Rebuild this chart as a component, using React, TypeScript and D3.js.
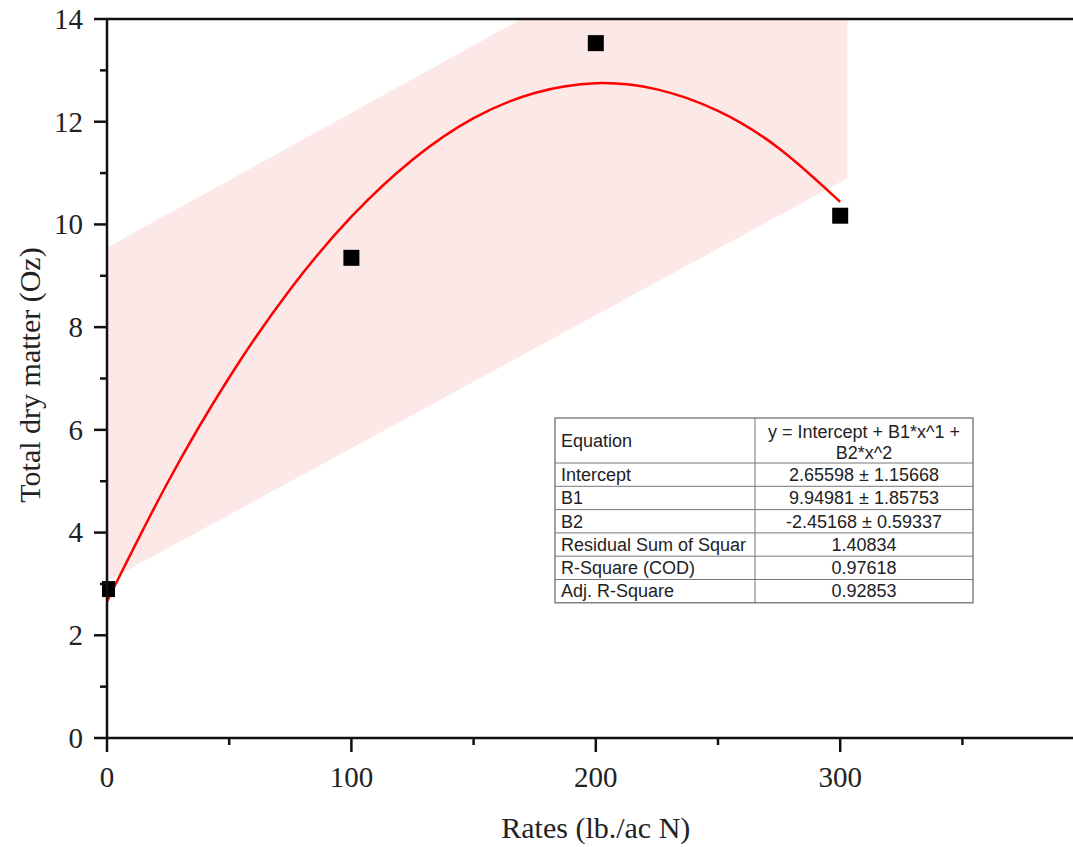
import React, { useEffect, useRef } from "react";
import * as d3 from "d3";

// measured points
const rates = [0, 100, 200, 300];
const dryMatter = [2.9, 9.35, 13.53, 10.17];

// fitted curve
const curveRates = [0, 25, 50, 75, 100, 125, 150, 175, 200, 225, 250, 275, 300];
const curveValues = [2.66, 4.99, 7.02, 8.74, 10.15, 11.26, 12.07, 12.56, 12.75, 12.63, 12.21, 11.48, 10.44];

// shaded band edges
const bandRates = [0, 303];
const bandUpper = [9.55, 17.5];
const bandLower = [3.05, 10.9];

const xMajor = [0, 100, 200, 300, 400];
const xMinor = [50, 150, 250, 350];
const yMajor = [0, 2, 4, 6, 8, 10, 12, 14];
const yMinor = [1, 3, 5, 7, 9, 11, 13];

const tableLabels = ["Intercept", "B1", "B2", "Residual Sum of Squar", "R-Square (COD)", "Adj. R-Square"];
const tableValues = ["2.65598 ± 1.15668", "9.94981 ± 1.85753", "-2.45168 ± 0.59337", "1.40834", "0.97618", "0.92853"];
const equationLines = ["y = Intercept + B1*x^1 +", "B2*x^2"];

const W = 1073;
const H = 847;
const left = 107;
const top = 19;
const bottom = 738;

const App = () => {
    const svgRef = useRef(null);

    useEffect(() => {
        const svg = d3.select(svgRef.current);
        svg.selectAll("*").remove();

        const x = d3.scaleLinear().domain([0, 400]).range([left, left + 4 * 244.4]);
        const y = d3.scaleLinear().domain([0, 14]).range([bottom, top]);

        const defs = svg.append("defs");
        defs.append("clipPath").attr("id", "plot-clip")
            .append("rect").attr("x", left).attr("y", top).attr("width", W - left).attr("height", bottom - top);
        // markers sitting on the axis get cut a bit
        defs.append("clipPath").attr("id", "mark-clip")
            .append("rect").attr("x", left - 5).attr("y", 0).attr("width", W).attr("height", bottom);

        const plot = svg.append("g").attr("clip-path", "url(#plot-clip)");

        // band
        const band = d3.area()
            .x((d) => x(d[0]))
            .y0((d) => y(d[1]))
            .y1((d) => y(d[2]));
        plot.append("path")
            .datum(bandRates.map((r, i) => [r, bandLower[i], bandUpper[i]]))
            .attr("d", band)
            .attr("fill", "#fde8e8");

        // markers
        const sz = 16;
        svg.append("g").attr("clip-path", "url(#mark-clip)").selectAll("rect")
            .data(rates.map((r, i) => [r, dryMatter[i]]))
            .enter()
            .append("rect")
            .attr("x", (d) => x(d[0]) - sz / 2)
            .attr("y", (d) => y(d[1]) - sz / 2)
            .attr("width", sz)
            .attr("height", sz)
            .attr("fill", "#000");

        // fit curve
        const line = d3.line()
            .x((d) => x(d[0]))
            .y((d) => y(d[1]))
            .curve(d3.curveNatural);
        plot.append("path")
            .datum(curveRates.map((r, i) => [r, curveValues[i]]))
            .attr("d", line)
            .attr("fill", "none")
            .attr("stroke", "#ff0000")
            .attr("stroke-width", 2.5);

        // axes
        const axes = svg.append("g").attr("stroke", "#111").attr("stroke-width", 2.5);
        axes.append("line").attr("x1", left).attr("x2", W).attr("y1", bottom).attr("y2", bottom);
        axes.append("line").attr("x1", left).attr("x2", W).attr("y1", top).attr("y2", top);
        axes.append("line").attr("x1", left).attr("x2", left).attr("y1", top - 1).attr("y2", bottom);

        axes.selectAll(".xmaj").data(xMajor).enter().append("line")
            .attr("x1", (d) => x(d)).attr("x2", (d) => x(d))
            .attr("y1", bottom).attr("y2", bottom + 14);
        axes.selectAll(".xmin").data(xMinor).enter().append("line")
            .attr("x1", (d) => x(d)).attr("x2", (d) => x(d))
            .attr("y1", bottom).attr("y2", bottom + 7);
        axes.selectAll(".ymaj").data(yMajor).enter().append("line")
            .attr("x1", left - 13).attr("x2", left)
            .attr("y1", (d) => y(d)).attr("y2", (d) => y(d));
        axes.selectAll(".ymin").data(yMinor).enter().append("line")
            .attr("x1", left - 7).attr("x2", left)
            .attr("y1", (d) => y(d)).attr("y2", (d) => y(d));

        const serif = "'Liberation Serif', 'Times New Roman', serif";

        svg.append("g").selectAll("text").data(xMajor.filter((d) => x(d) < W)).enter().append("text")
            .attr("x", (d) => x(d))
            .attr("y", 787)
            .attr("text-anchor", "middle")
            .attr("font-family", serif)
            .attr("font-size", 29)
            .attr("fill", "#222")
            .text((d) => d);

        svg.append("g").selectAll("text").data(yMajor).enter().append("text")
            .attr("x", 83)
            .attr("y", (d) => y(d))
            .attr("dy", "0.34em")
            .attr("text-anchor", "end")
            .attr("font-family", serif)
            .attr("font-size", 29)
            .attr("fill", "#222")
            .text((d) => d);

        svg.append("text")
            .attr("x", x(200))
            .attr("y", 838)
            .attr("text-anchor", "middle")
            .attr("font-family", serif)
            .attr("font-size", 30)
            .attr("fill", "#222")
            .text("Rates (lb./ac N)");

        svg.append("text")
            .attr("transform", "translate(40,375) rotate(-90)")
            .attr("text-anchor", "middle")
            .attr("font-family", serif)
            .attr("font-size", 30)
            .attr("fill", "#222")
            .text("Total dry matter (Oz)");

        // stats table
        const tx0 = 555;
        const tx1 = 755;
        const tx2 = 973;
        const ty0 = 418;
        const headH = 45;
        const rowH = 23.3;
        const tbl = svg.append("g");
        const ty1 = ty0 + headH;
        const tyEnd = ty1 + rowH * tableLabels.length;

        tbl.append("rect")
            .attr("x", tx0).attr("y", ty0)
            .attr("width", tx2 - tx0).attr("height", tyEnd - ty0)
            .attr("fill", "#fff");

        const rowLines = [ty1, ...tableLabels.slice(1).map((_, i) => ty1 + rowH * (i + 1))];
        tbl.selectAll(".hl").data(rowLines).enter().append("line")
            .attr("x1", tx0).attr("x2", tx2)
            .attr("y1", (d) => d).attr("y2", (d) => d)
            .attr("stroke", "#777").attr("stroke-width", 1);
        tbl.append("line")
            .attr("x1", tx1).attr("x2", tx1).attr("y1", ty0).attr("y2", tyEnd)
            .attr("stroke", "#777").attr("stroke-width", 1);
        tbl.append("rect")
            .attr("x", tx0).attr("y", ty0)
            .attr("width", tx2 - tx0).attr("height", tyEnd - ty0)
            .attr("fill", "none").attr("stroke", "#666").attr("stroke-width", 1.2);

        const sans = "'Liberation Sans', Arial, sans-serif";
        tbl.append("text")
            .attr("x", tx0 + 6).attr("y", ty0 + headH / 2)
            .attr("dy", "0.35em")
            .attr("font-family", sans).attr("font-size", 18).attr("fill", "#222")
            .text("Equation");
        tbl.selectAll(".eq").data(equationLines).enter().append("text")
            .attr("x", (tx1 + tx2) / 2)
            .attr("y", (d, i) => ty0 + 14 + i * 21)
            .attr("dy", "0.35em")
            .attr("text-anchor", "middle")
            .attr("font-family", sans).attr("font-size", 18).attr("fill", "#222")
            .text((d) => d);

        tbl.selectAll(".lab").data(tableLabels).enter().append("text")
            .attr("x", tx0 + 6)
            .attr("y", (d, i) => ty1 + rowH * (i + 0.5))
            .attr("dy", "0.35em")
            .attr("font-family", sans).attr("font-size", 18).attr("fill", "#222")
            .text((d) => d);
        tbl.selectAll(".val").data(tableValues).enter().append("text")
            .attr("x", (tx1 + tx2) / 2)
            .attr("y", (d, i) => ty1 + rowH * (i + 0.5))
            .attr("dy", "0.35em")
            .attr("text-anchor", "middle")
            .attr("font-family", sans).attr("font-size", 18).attr("fill", "#222")
            .text((d) => d);
    }, []);

    return (
        <svg
            ref={svgRef}
            width={W}
            height={H}
            style={{ position: "absolute", left: 0, top: 0, background: "#fff" }}
        ></svg>
    );
};

export default App;
